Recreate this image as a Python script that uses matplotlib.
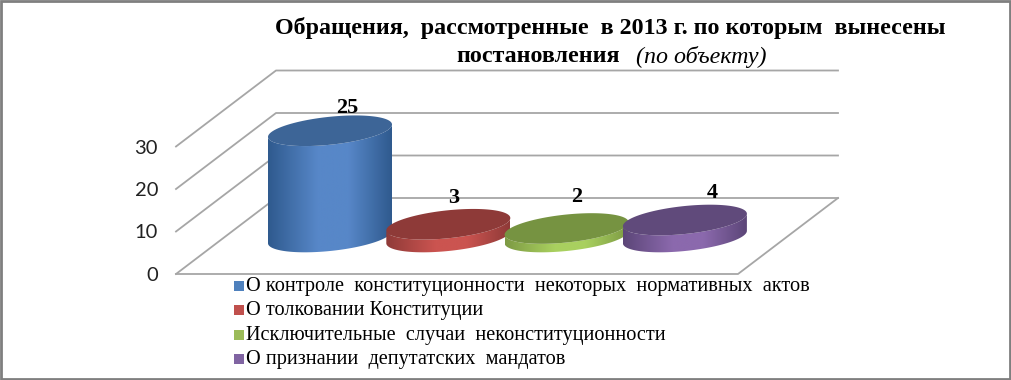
import numpy as np
import matplotlib
matplotlib.use('Agg')
from matplotlib import pyplot as plt
from matplotlib.patches import Polygon, Rectangle
from matplotlib.colors import LinearSegmentedColormap

categories = ['О контроле  конституционности  некоторых  нормативных  актов',
              'О толковании Конституции',
              'Исключительные  случаи  неконституционности',
              'О признании  депутатских  мандатов']
values = [25, 3, 2, 4]
ticks = [0, 10, 20, 30]
side_edge = ['#2f5a8e', '#8f3a38', '#7d9a44', '#5c4678']
side_mid = ['#5787c8', '#cb5450', '#a9d05f', '#8b69ad']
top_col = ['#3d6597', '#8e3a38', '#769341', '#604a7b']
legend_col = ['#4f81bd', '#c0504d', '#9bbb59', '#8064a2']
label_dx = [17, 5, 10, 27]
label_dy = [23, 26, 31, 27]

W, H = 1011, 380
unit = 4.25      # pixels per value unit
base_y = 237
cx0, dcx = 330, 118.3
rx, ry, tilt = 62, 14, -0.1
floor_x, floor_y = 176, 274
depth_x, depth_y = 100, -76
floor_w = 562
grid_col = '#a6a6a6'

fig = plt.figure(figsize=(W/100, H/100), dpi=100)
ax = fig.add_axes([0, 0, 1, 1])
ax.set_xlim(0, W)
ax.set_ylim(H, 0)
ax.axis('off')

def val(v):
    return v*unit

# walls and floor
for t in ticks:
    y = floor_y - val(t)
    ax.plot([floor_x, floor_x+depth_x, floor_x+depth_x+floor_w],
            [y, y+depth_y, y+depth_y], color=grid_col, lw=1.3, zorder=1)
    ax.text(158, y+1.5, str(t), ha='right', va='center', fontsize=14.5,
            family='Lato', color='#222222')
ax.plot([floor_x, floor_x+floor_w, floor_x+floor_w+depth_x],
        [floor_y, floor_y, floor_y+depth_y], color=grid_col, lw=1.3, zorder=1)

def ellipse(cx, cy, n=200):
    t = np.linspace(0, 2*np.pi, n)
    return cx + rx*np.cos(t), cy + ry*np.sin(t) + tilt*rx*np.cos(t)

# cylinders
for i, v in enumerate(values):
    cx = cx0 + i*dcx
    top = base_y - val(v)
    t = np.linspace(0, np.pi, 100)
    xb = cx + rx*np.cos(t)
    yb = base_y + ry*np.sin(t) + tilt*rx*np.cos(t)
    xt = cx + rx*np.cos(t[::-1])
    yt = top + ry*np.sin(t[::-1]) + tilt*rx*np.cos(t[::-1])
    poly = Polygon(np.column_stack([np.r_[xb, xt], np.r_[yb, yt]]), closed=True,
                   fc='none', ec='none', zorder=3+i)
    ax.add_patch(poly)
    cmap = LinearSegmentedColormap.from_list('c', [(0, side_edge[i]), (0.4, side_mid[i]),
                                                   (0.65, side_mid[i]), (1, side_edge[i])])
    im = ax.imshow(np.linspace(0, 1, 256).reshape(1, -1), cmap=cmap, aspect='auto',
                   extent=[cx-rx, cx+rx, base_y+ry+8, top-ry-8], zorder=3+i)
    im.set_clip_path(poly)
    ex, ey = ellipse(cx, top)
    ax.fill(ex, ey, color=top_col[i], lw=0, zorder=3+i)
    ax.text(cx+label_dx[i], top-label_dy[i], str(v), ha='center', va='center',
            fontsize=16, fontweight='bold', family='Liberation Serif', color='black', zorder=10)
ax.set_xlim(0, W)
ax.set_ylim(H, 0)

# title
ax.text(610, 28, 'Обращения,  рассмотренные  в 2013 г. по которым  вынесены', ha='center', va='center',
        fontsize=17.3, fontweight='bold', family='Liberation Serif')
ax.text(456, 57, 'постановления', ha='left', va='center', fontsize=17.3,
        fontweight='bold', family='Liberation Serif')
ax.text(767, 57, '(по объекту)', ha='right', va='center', fontsize=17.3,
        fontstyle='italic', family='Liberation Serif')

# legend
for i, c in enumerate(categories):
    y = 286 + i*24.3
    ax.add_patch(Rectangle((234, y-5), 10, 10, fc=legend_col[i], ec='none'))
    ax.text(246, y+0.5, c, ha='left', va='center', fontsize=14.6, family='Liberation Serif')

# frame
ax.add_patch(Rectangle((1, 1), W-2, H-2, fc='none', ec='#7f7f7f', lw=2, zorder=20))
fig.savefig('out.png', dpi=100)
